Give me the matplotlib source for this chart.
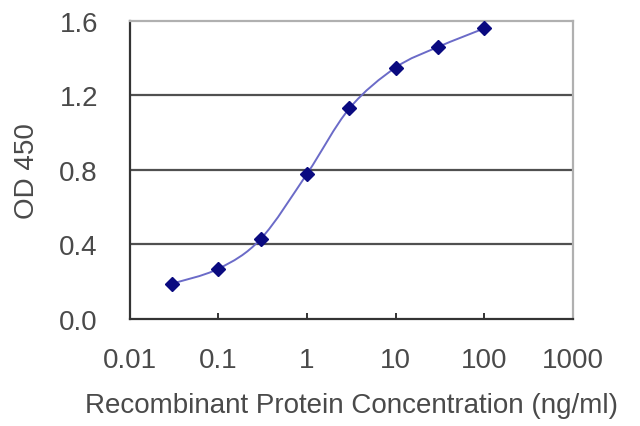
import numpy as np
import matplotlib.pyplot as plt
from matplotlib.path import Path
from matplotlib.patches import PathPatch

# Data
conc = [0.03, 0.1, 0.3, 1, 3, 10, 30, 100]
od = [0.19, 0.27, 0.43, 0.78, 1.13, 1.35, 1.46, 1.56]
y_ticks = [0.0, 0.4, 0.8, 1.2, 1.6]
y_tick_labels = ['0.0', '0.4', '0.8', '1.2', '1.6']
x_ticks = [0.01, 0.1, 1, 10, 100, 1000]
x_tick_labels = ['0.01', '0.1', '1', '10', '100', '1000']

plt.rcParams['font.family'] = ['Liberation Sans', 'DejaVu Sans']
text_col = '#4a4a4a'

fig = plt.figure(figsize=(6.4, 4.27), dpi=100)
ax = fig.add_axes([0.203, 0.2506, 0.692, 0.698])
ax.set_xscale('log')
ax.set_xlim(0.01, 1000)
ax.set_ylim(0, 1.6)

# gridlines
for g in y_ticks[1:-1]:
    ax.axhline(g, color='#505050', lw=1.6, zorder=1)

# smoothed line (Catmull-Rom style bezier through the points, in log-x space)
lx = np.log10(conc)
yy = np.array(od)
pts = np.column_stack((lx, yy))
verts = [pts[0]]
codes = [Path.MOVETO]
for i in range(len(pts) - 1):
    p0 = pts[i - 1] if i > 0 else pts[i]
    p1 = pts[i]
    p2 = pts[i + 1]
    p3 = pts[i + 2] if i + 2 < len(pts) else pts[i + 1]
    c1 = p1 + (p2 - p0) / 6
    c2 = p2 - (p3 - p1) / 6
    verts += [c1, c2, p2]
    codes += [Path.CURVE4] * 3
verts = np.array(verts)
verts[:, 0] = 10 ** verts[:, 0]
ax.add_patch(PathPatch(Path(verts, codes), fill=False, edgecolor='#6b6bc8',
                       lw=1.4, zorder=2))

ax.plot(conc, od, linestyle='none', marker='D', markersize=7,
        color='#0a0a80', zorder=3, clip_on=False)

# spines
ax.spines['left'].set_color('#333333')
ax.spines['bottom'].set_color('#333333')
ax.spines['left'].set_linewidth(1.6)
ax.spines['bottom'].set_linewidth(1.6)
ax.spines['top'].set_color('#b0b0b0')
ax.spines['right'].set_color('#b0b0b0')
ax.spines['top'].set_linewidth(1.6)
ax.spines['right'].set_linewidth(1.6)

ax.set_xticks(x_ticks)
ax.set_xticklabels(x_tick_labels)
ax.xaxis.set_minor_locator(plt.NullLocator())
ax.set_yticks(y_ticks)
ax.set_yticklabels(y_tick_labels)
ax.tick_params(axis='x', direction='in', length=4, width=1.4, color='#333333',
               labelsize=20, labelcolor=text_col, pad=20)
ax.tick_params(axis='y', length=0, labelsize=20, labelcolor=text_col, pad=23)

ax.set_xlabel('Recombinant Protein Concentration (ng/ml)', fontsize=20,
              color=text_col, labelpad=14)
ax.set_ylabel('OD 450', fontsize=20, color=text_col, labelpad=14)

fig.savefig('out.png', dpi=100)
